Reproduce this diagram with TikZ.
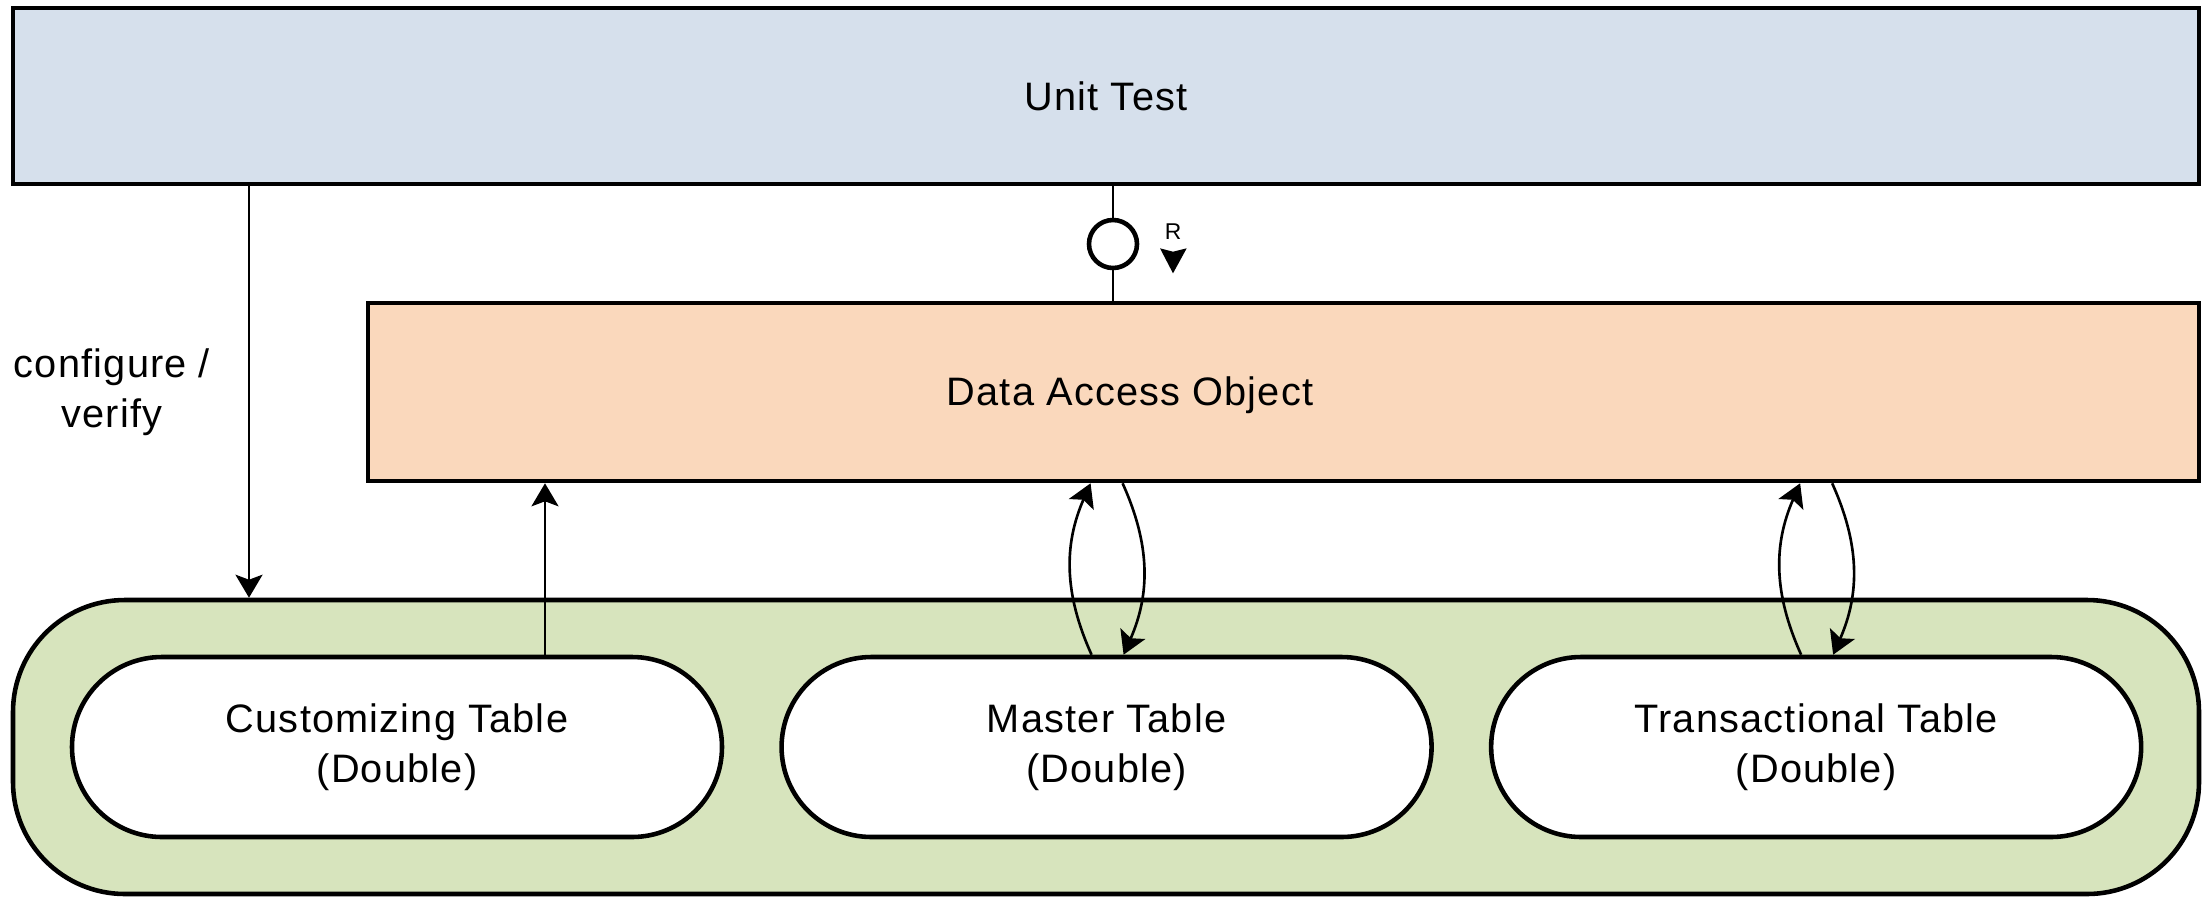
\documentclass[tikz,border=0pt]{standalone}
\usepackage{fontspec}
\setmainfont{Liberation Sans}[LetterSpace=3]
\usetikzlibrary{arrows.meta,positioning}
\definecolor{testblue}{RGB}{214,224,236}
\definecolor{daopeach}{RGB}{250,216,188}
\definecolor{dblgreen}{RGB}{215,228,189}
\begin{document}
\begin{tikzpicture}[node distance=0.55cm,
    every node/.style={font=\fontsize{11.3}{14.2}\selectfont},
    layer/.style={draw, line width=1.3pt, rectangle, inner sep=0pt},
    dbltable/.style={draw, line width=1.3pt, fill=white, rounded corners=0.9cm,
      minimum width=6.5cm, minimum height=1.8cm, align=center},
    conn/.style={line width=0.75pt},
    >={Stealth[length=2.3mm,width=2.7mm,inset=0.5mm]}]
  \useasboundingbox (0,0) rectangle (22.02,-8.97);
  \node[layer, fill=testblue, minimum width=21.86cm, minimum height=1.76cm] (ut) at (11.06,-0.96) {Unit Test};
  \node[layer, fill=daopeach, minimum width=18.31cm, minimum height=1.78cm,
    label={[xshift=-1.535cm, yshift=-0.03cm]center:Data Access Object}] (dao) at (12.835,-3.92) {};
  \node[layer, fill=dblgreen, rounded corners=1.12cm, minimum width=21.86cm, minimum height=2.94cm] (grp) at (11.06,-7.47) {};
  \node[dbltable] (cust) at (3.97,-7.47) {Customizing Table\\(Double)};
  \node[dbltable] (mst) [right=of cust] {Master Table\\(Double)};
  \node[dbltable] (trn) [right=of mst] {Transactional Table\\(Double)};

  \node[circle, draw, line width=1.3pt, fill=white, minimum size=0.48cm, inner sep=0pt] (rcirc) at (11.13,-2.44) {};
  \draw[conn] (rcirc) -- (rcirc |- ut.south)
              (rcirc) -- (rcirc |- dao.north);
  \node[font=\fontsize{6.5}{8}\selectfont] (rlabel) at (11.73,-2.32) {R};
  \coordinate (rtip) at (11.73,-2.733);
  \fill (rtip) -- ++(-0.13,0.25) -- ++(0.13,-0.034) -- ++(0.137,0.034) -- cycle;

  \coordinate (cfgx) at (2.49,0);
  \node[align=center] (cfglabel) at (1.12,-3.92) {configure /\\verify};
  \draw[->, conn] (ut.south -| cfgx) -- (grp.north -| cfgx);
  \draw[->, conn] ([xshift=1.48cm]cust.north) -- ([xshift=1.48cm]cust.north |- dao.south);
  \path[->, conn]
    ([xshift=-0.15cm]mst.north) edge [bend left=24] ([xshift=-0.16cm]mst.north |- dao.south)
    ([xshift=0.16cm]mst.north |- dao.south) edge [bend left=24] ([xshift=0.17cm]mst.north)
    ([xshift=-0.15cm]trn.north) edge [bend left=24] ([xshift=-0.16cm]trn.north |- dao.south)
    ([xshift=0.16cm]trn.north |- dao.south) edge [bend left=24] ([xshift=0.17cm]trn.north);
\end{tikzpicture}
\end{document}
